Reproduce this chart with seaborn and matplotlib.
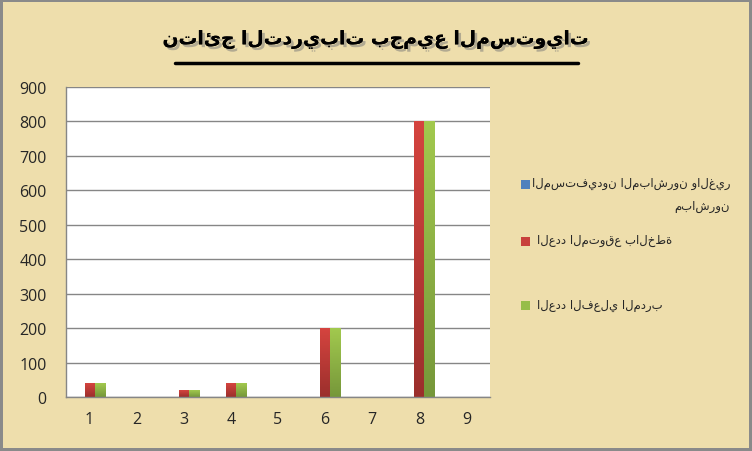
import matplotlib
matplotlib.use("Agg")
import matplotlib.pyplot as plt
import matplotlib.patheffects as pe
from matplotlib.patches import Rectangle
from matplotlib.lines import Line2D
from matplotlib.colors import LinearSegmentedColormap
import seaborn as sns
import pandas as pd
import numpy as np

categories = ["1", "2", "3", "4", "5", "6", "7", "8", "9"]
series_names = [
    "المستفيدون المباشرون والغير مباشرون",
    "العدد المتوقع بالخطة",
    "العدد الفعلي المدرب",
]
beneficiaries = [0, 0, 0, 0, 0, 0, 0, 0, 0]
expected = [40, 0, 20, 40, 0, 200, 0, 800, 0]
actual = [40, 0, 20, 40, 0, 200, 0, 800, 0]
title_text = "نتائج التدريبات بجميع المستويات"
y_ticks = [0, 100, 200, 300, 400, 500, 600, 700, 800, 900]

colors = ["#4F81BD", "#C8413C", "#97BD4A"]
grad_top = {"#4F81BD": "#5B8FD0", "#C8413C": "#D5443F", "#97BD4A": "#A2C94E"}
grad_bot = {"#4F81BD": "#3C6699", "#C8413C": "#9B2F2C", "#97BD4A": "#76973A"}
bg = "#EEDEAC"

rows = []
for name, vals in zip(series_names, [beneficiaries, expected, actual]):
    for c, v in zip(categories, vals):
        rows.append({"cat": c, "series": name, "value": v})
df = pd.DataFrame(rows)

sns.set_theme(style="white")
plt.rcParams["font.family"] = ["DejaVu Sans"]

fig = plt.figure(figsize=(7.52, 4.52), dpi=100)
fig.patch.set_facecolor(bg)
fig.patch.set_edgecolor("#8A8A8A")
fig.patch.set_linewidth(3)

ax = fig.add_axes([66 / 752, 1 - 398 / 452, 424 / 752, 310 / 452])
ax.set_facecolor("white")
sns.barplot(data=df, x="cat", y="value", hue="series", palette=colors,
            width=0.64, ax=ax, legend=False, saturation=1, linewidth=0,
            errorbar=None)
ax.set_ylim(0, 900)
xlim = ax.get_xlim()

# vertical gradient fill on each bar
for p in list(ax.patches):
    h = p.get_height()
    if h <= 0:
        continue
    fc = matplotlib.colors.to_hex(p.get_facecolor())
    if fc.upper() not in [c.upper() for c in grad_top]:
        continue
    key = [c for c in grad_top if c.upper() == fc.upper()][0]
    cmap = LinearSegmentedColormap.from_list("g", [grad_bot[key], grad_top[key]])
    x0 = p.get_x()
    w = p.get_width()
    grad = np.linspace(0, 1, 256).reshape(-1, 1)
    im = ax.imshow(grad, cmap=cmap, aspect="auto", origin="lower",
                   extent=(x0, x0 + w, 0, h), zorder=p.get_zorder() + 0.1)
    im.set_clip_path(p)
ax.set_xlim(xlim)
ax.set_ylim(0, 900)

ax.set_yticks(y_ticks)
ax.set_yticklabels([str(t) for t in y_ticks], fontsize=11.5, family=["Open Sans", "DejaVu Sans"])
ax.set_xticks(range(len(categories)))
ax.set_xticklabels(categories, fontsize=11.5, family=["Open Sans", "DejaVu Sans"])
ax.tick_params(axis="y", length=0, pad=14)
ax.tick_params(axis="x", length=0, pad=10)
ax.set_xlabel("")
ax.set_ylabel("")
ax.yaxis.grid(True, color="#868686", linewidth=1)
ax.set_axisbelow(True)
for s in ["top", "right"]:
    ax.spines[s].set_visible(False)
for s in ["left", "bottom"]:
    ax.spines[s].set_color("#868686")
    ax.spines[s].set_linewidth(1)

# Title
fig.text(376 / 752, 1 - 41 / 452, title_text, ha="center", va="center",
         fontsize=13.5, fontweight="bold", color="black",
         path_effects=[pe.withSimplePatchShadow(offset=(2, -2), shadow_rgbFace="#777777", alpha=0.5), pe.Normal()])
fig.add_artist(Line2D([175 / 752, 578 / 752], [1 - 64 / 452, 1 - 64 / 452],
                      color="black", linewidth=2.5, transform=fig.transFigure))

# Legend
sq = 9
entries = [(185, colors[0]), (242, colors[1]), (306, colors[2])]
for (y, col) in entries:
    fig.add_artist(Rectangle((521 / 752, 1 - (y + sq / 2) / 452), sq / 752, sq / 452,
                             transform=fig.transFigure, facecolor=col, edgecolor="none"))
lfs = 8.4
fig.text(730 / 752, 1 - 184 / 452, "المستفيدون المباشرون والغير", ha="right", va="center", fontsize=lfs)
fig.text(730 / 752, 1 - 207 / 452, "مباشرون", ha="right", va="center", fontsize=lfs)
fig.text(537 / 752, 1 - 241 / 452, series_names[1], ha="left", va="center", fontsize=lfs)
fig.text(537 / 752, 1 - 305 / 452, series_names[2], ha="left", va="center", fontsize=lfs)

fig.savefig("out.png", dpi=100, facecolor=fig.get_facecolor(), edgecolor=fig.get_edgecolor())
